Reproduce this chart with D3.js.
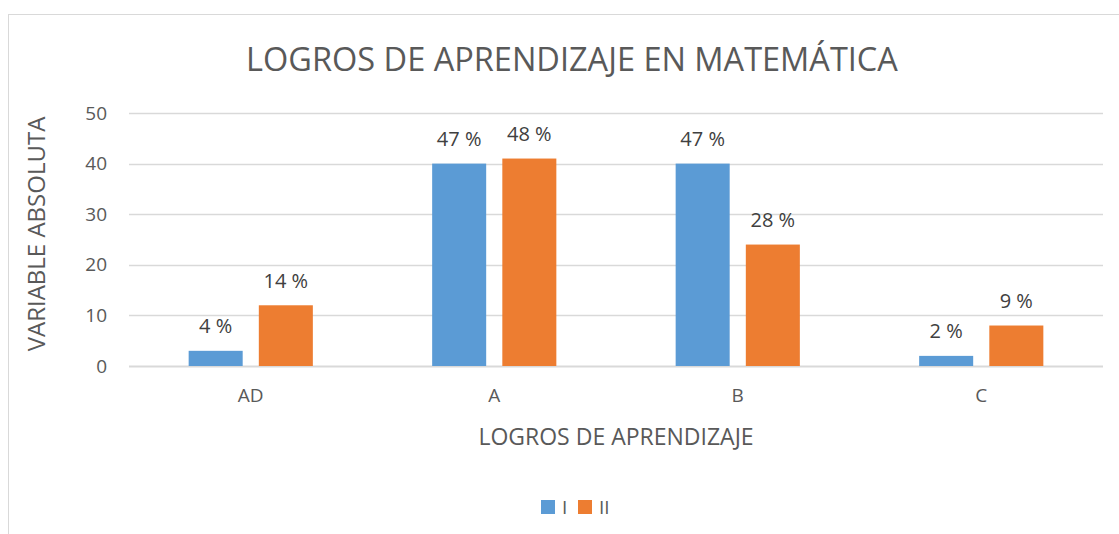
<!DOCTYPE html>
<meta charset="utf-8">
<style>
body { margin: 0; background: #fff; }
text { font-family: "Open Sans", "Liberation Sans", sans-serif; }
</style>
<svg width="1119" height="534"></svg>
<script src="https://cdn.jsdelivr.net/npm/d3@7"></script>
<script>

var categories = ["AD", "A", "B", "C"];
var seriesNames = ["I", "II"];
var valuesI = [3, 40, 40, 2];
var valuesII = [12, 41, 24, 8];
var labelsI = ["4 %", "47 %", "47 %", "2 %"];
var labelsII = ["14 %", "48 %", "28 %", "9 %"];
var yTicks = [0, 10, 20, 30, 40, 50];

var colors = ["#5b9bd5", "#ed7d31"];

var svg = d3.select("svg");

// chart frame (runs off the right / bottom edge like the screenshot)
svg.append("rect")
    .attr("x", 8.5).attr("y", 14.5)
    .attr("width", 1200).attr("height", 600)
    .attr("fill", "none")
    .attr("stroke", "#d9d9d9");

var x0 = d3.scaleBand()
    .domain(categories)
    .range([129, 1103])
    .paddingInner(0.49)
    .paddingOuter(0.245);

var x1 = d3.scaleBand()
    .domain(seriesNames)
    .range([0, x0.bandwidth()])
    .paddingInner(0.23);

var y = d3.scaleLinear()
    .domain([0, 50])
    .range([366, 113]);

// gridlines
svg.append("g")
  .selectAll("line")
  .data(yTicks)
  .enter().append("line")
    .attr("x1", 129).attr("x2", 1103)
    .attr("y1", function(d) { return Math.round(y(d)) + 0.5; })
    .attr("y2", function(d) { return Math.round(y(d)) + 0.5; })
    .attr("stroke", "#d9d9d9")
    .attr("stroke-width", function(d) { return d === 0 ? 2 : 1.5; });

// y axis labels
var yAxis = svg.append("g")
    .attr("transform", "translate(107,0)")
    .call(d3.axisLeft(y).tickValues(yTicks).tickSize(0).tickPadding(0));
yAxis.select(".domain").remove();
yAxis.selectAll("text")
    .attr("font-size", 19)
    .attr("fill", "#595959")
    .style("font-family", "'Open Sans', sans-serif");

// x axis labels
var xAxis = svg.append("g")
    .attr("transform", "translate(0,366)")
    .call(d3.axisBottom(x0).tickSize(0).tickPadding(23));
xAxis.select(".domain").remove();
xAxis.selectAll("text")
    .attr("font-size", 19)
    .attr("fill", "#595959")
    .style("font-family", "'Open Sans', sans-serif");

var rows = categories.map(function(c, i) {
  return { cat: c, vals: [
    { s: "I", v: valuesI[i], label: labelsI[i] },
    { s: "II", v: valuesII[i], label: labelsII[i] }
  ]};
});

var groups = svg.append("g")
  .selectAll("g")
  .data(rows)
  .enter().append("g")
    .attr("transform", function(d) { return "translate(" + x0(d.cat) + ",0)"; });

groups.selectAll("rect")
  .data(function(d) { return d.vals; })
  .enter().append("rect")
    .attr("x", function(d) { return x1(d.s); })
    .attr("width", x1.bandwidth())
    .attr("y", function(d) { return y(d.v); })
    .attr("height", function(d) { return y(0) - y(d.v); })
    .attr("fill", function(d, i) { return colors[i]; });

groups.selectAll("text")
  .data(function(d) { return d.vals; })
  .enter().append("text")
    .attr("x", function(d) { return x1(d.s) + x1.bandwidth() / 2; })
    .attr("y", function(d) { return y(d.v) - 17.5; })
    .attr("text-anchor", "middle")
    .attr("font-size", 20)
    .attr("fill", "#404040")
    .text(function(d) { return d.label; });

// title
svg.append("text")
    .attr("x", 572).attr("y", 71)
    .attr("text-anchor", "middle")
    .attr("font-size", 32.5)
    .attr("fill", "#595959")
    .text("LOGROS DE APRENDIZAJE EN MATEMÁTICA");

// axis titles
svg.append("text")
    .attr("transform", "translate(45,234) rotate(-90)")
    .attr("text-anchor", "middle")
    .attr("font-size", 24)
    .attr("fill", "#595959")
    .text("VARIABLE ABSOLUTA");

svg.append("text")
    .attr("x", 616).attr("y", 445)
    .attr("text-anchor", "middle")
    .attr("font-size", 23)
    .attr("fill", "#595959")
    .text("LOGROS DE APRENDIZAJE");

// legend
var legend = svg.append("g")
  .selectAll("g")
  .data(seriesNames)
  .enter().append("g")
    .attr("transform", function(d, i) { return "translate(" + (541 + i * 37) + ",500)"; });

legend.append("rect")
    .attr("width", 14).attr("height", 14)
    .attr("fill", function(d, i) { return colors[i]; });

legend.append("text")
    .attr("x", 21).attr("y", 13.5)
    .attr("font-size", 19)
    .attr("fill", "#595959")
    .text(function(d) { return d; });

</script>
